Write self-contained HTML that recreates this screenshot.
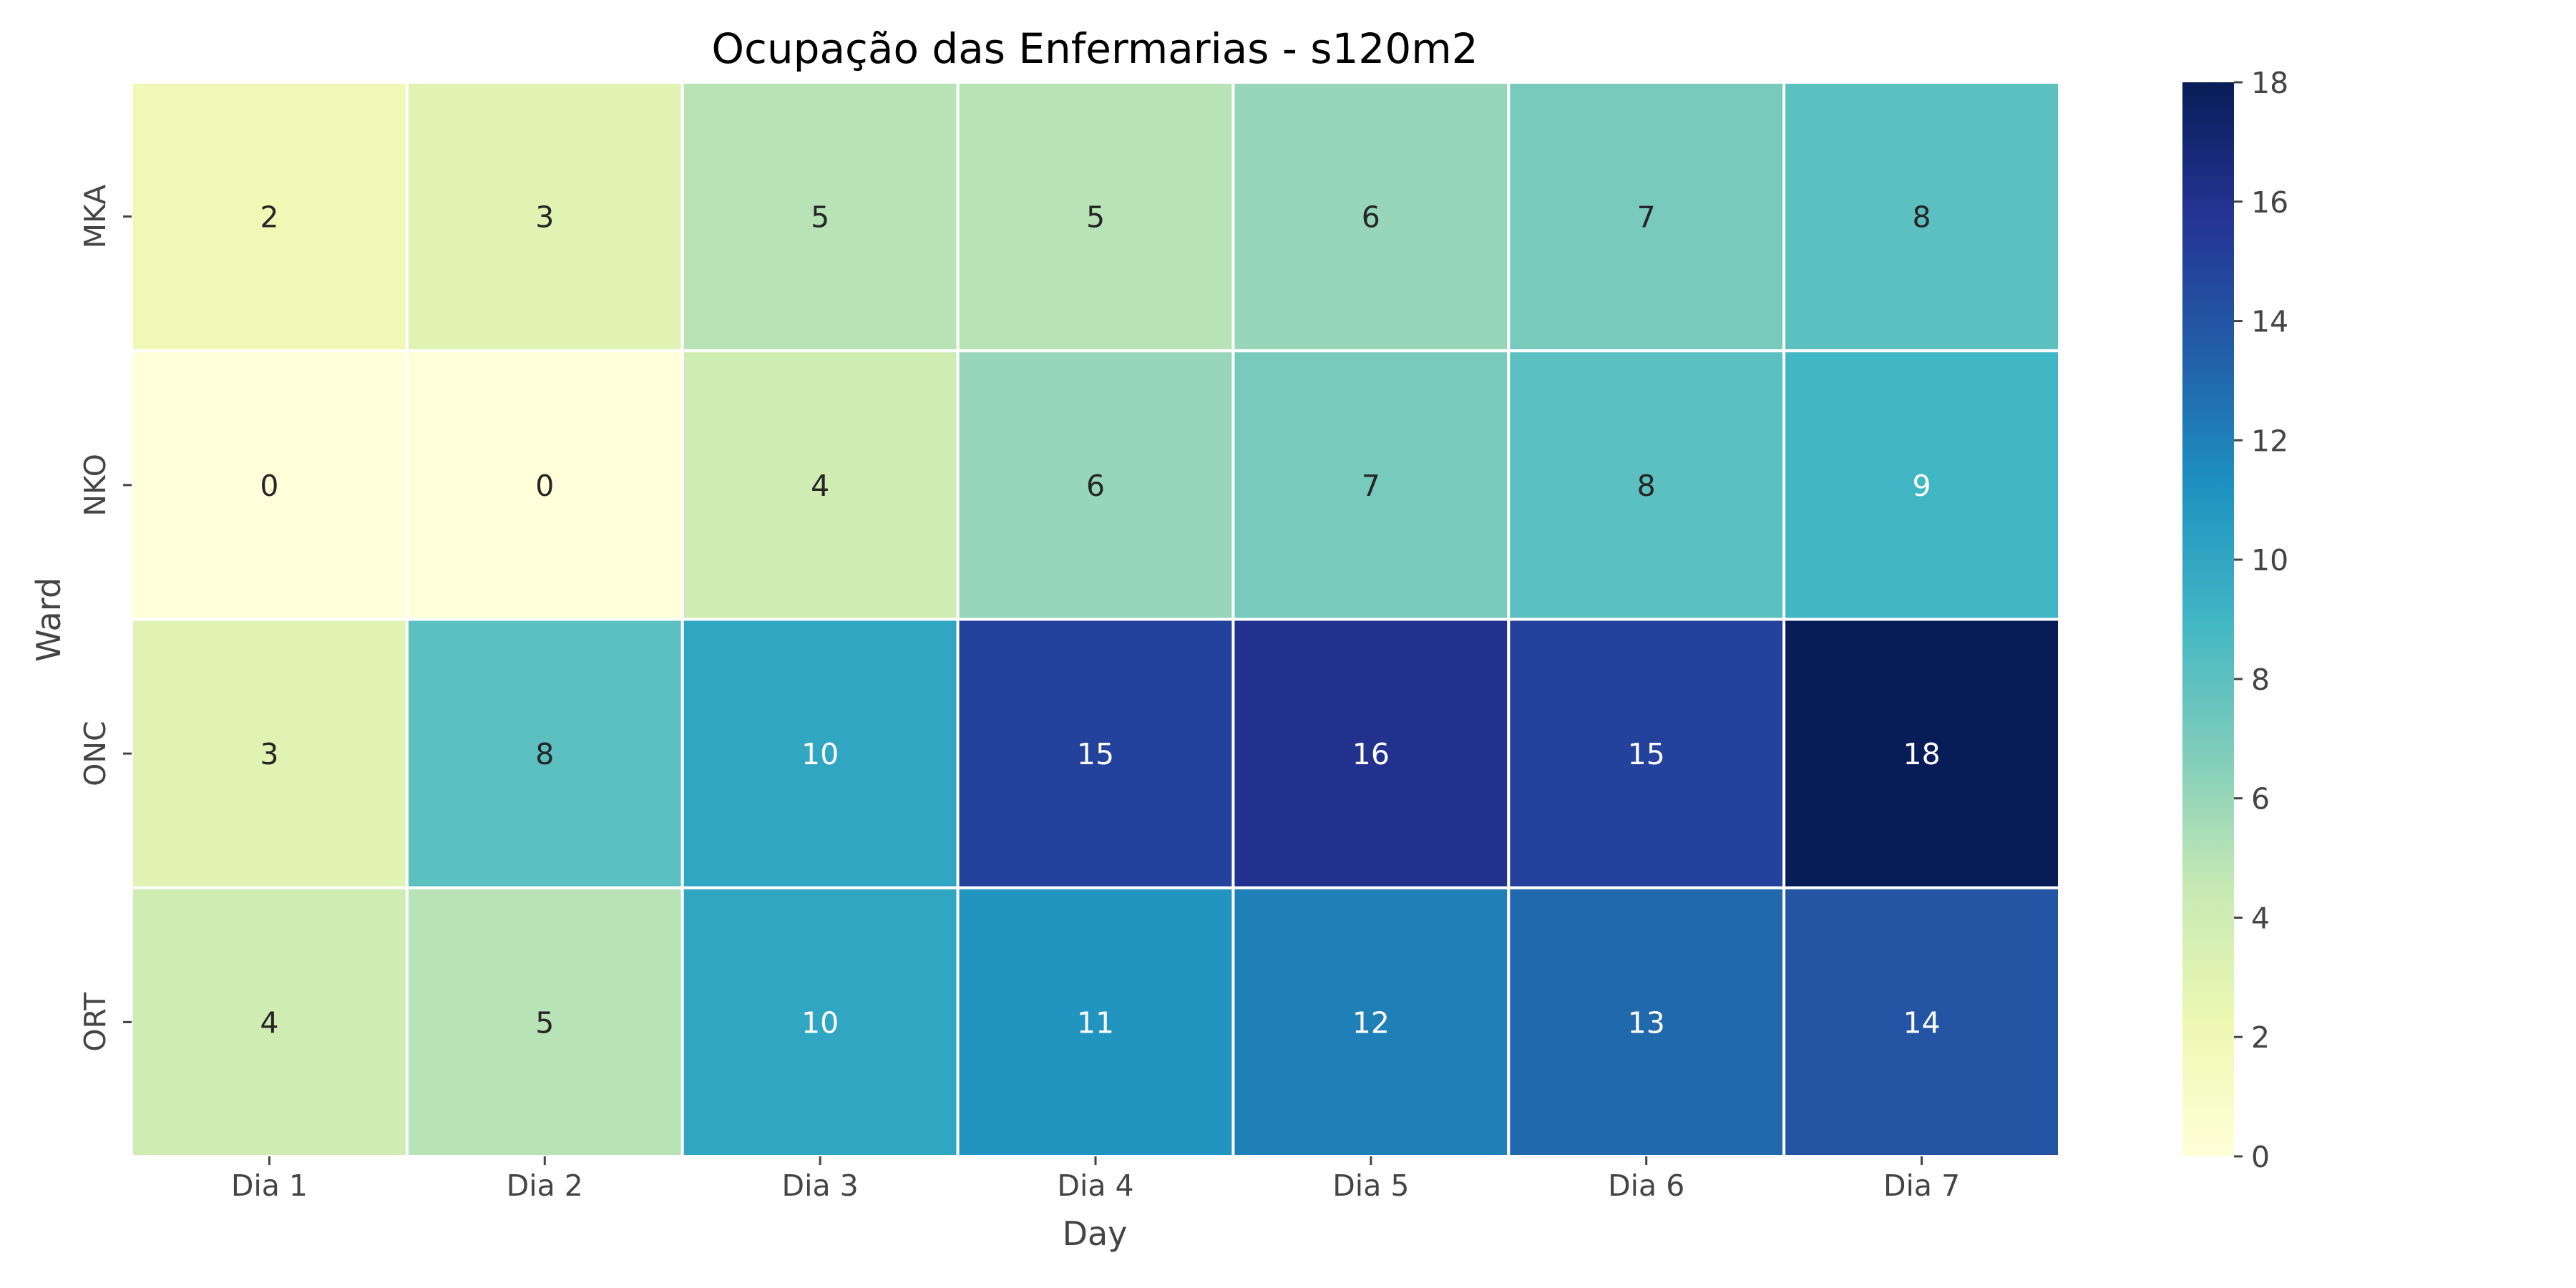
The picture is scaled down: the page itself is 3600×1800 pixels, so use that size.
<!DOCTYPE html>
<html><head><meta charset="utf-8"><style>
html,body{margin:0;padding:0;background:#fff;}
svg{display:block;font-family:"DejaVu Sans","Liberation Sans",sans-serif;}
</style></head><body>
<svg id="chart" width="3600" height="1800" viewBox="0 0 3600 1800">
<defs><linearGradient id="cbg" x1="0" y1="1" x2="0" y2="0">
<stop offset="0" stop-color="#ffffd9"/><stop offset="0.125" stop-color="#edf8b1"/><stop offset="0.25" stop-color="#c7e9b4"/><stop offset="0.375" stop-color="#7fcdbb"/><stop offset="0.5" stop-color="#41b6c4"/><stop offset="0.625" stop-color="#1d91c0"/><stop offset="0.75" stop-color="#225ea8"/><stop offset="0.875" stop-color="#253494"/><stop offset="1" stop-color="#081d58"/>
</linearGradient></defs>
<text x="1530" y="88" font-size="58" text-anchor="middle" fill="#000">Ocupação das Enfermarias - s120m2</text>
<g id="cells"></g>
<g id="axes"></g>
<text x="1530" y="1740" font-size="46" text-anchor="middle" fill="#444">Day</text>
<text transform="translate(84,866) rotate(-90)" font-size="46" text-anchor="middle" fill="#444">Ward</text>
<rect x="3050" y="115" width="72" height="1501" fill="url(#cbg)"/>
<g id="cbar"></g>
</svg>
<script>
const days = ["Dia 1","Dia 2","Dia 3","Dia 4","Dia 5","Dia 6","Dia 7"];
const wards = ["MKA","NKO","ONC","ORT"];
const rowMKA = [2,3,5,5,6,7,8];
const rowNKO = [0,0,4,6,7,8,9];
const rowONC = [3,8,10,15,16,15,18];
const rowORT = [4,5,10,11,12,13,14];
const cbarTicks = [0,2,4,6,8,10,12,14,16,18];
const vmin = 0, vmax = 18;

const rows = [rowMKA,rowNKO,rowONC,rowORT];
const L=184,R=2878,T=115,B=1616;
const cw=(R-L)/days.length, ch=(B-T)/wards.length;
const xPos=i=>L+i*cw, yPos=j=>T+j*ch;
const stops=["#ffffd9","#edf8b1","#c7e9b4","#7fcdbb","#41b6c4","#1d91c0","#225ea8","#253494","#081d58"].map(h=>[1,3,5].map(k=>parseInt(h.substr(k,2),16)));
function color(v){let t=(v-vmin)/(vmax-vmin)*(stops.length-1);let i=Math.min(Math.floor(t),stops.length-2);let f=t-i;
return "rgb("+stops[i].map((c,k)=>Math.round(c+(stops[i+1][k]-c)*f)).join(",")+")";}
const NS="http://www.w3.org/2000/svg";
function mk(tag,attrs,parent){const e=document.createElementNS(NS,tag);for(const k in attrs)e.setAttribute(k,attrs[k]);parent.appendChild(e);return e;}
const cells=document.getElementById('cells'),axes=document.getElementById('axes'),cbar=document.getElementById('cbar');
rows.forEach((row,j)=>row.forEach((v,i)=>{
 const r=mk('rect',{x:xPos(i),y:yPos(j),width:cw,height:ch,fill:color(v),stroke:"#fff","stroke-width":4},cells);
 
 
 const t=mk('text',{x:xPos(i)+cw/2,y:yPos(j)+ch/2+15,"font-size":41,"text-anchor":"middle",fill:(v>=9?"#fff":"#262626")},cells);
 t.textContent=v;
 
 
}));
days.forEach((d,i)=>{
 const cx=xPos(i)+cw/2;
 mk('line',{x1:cx,x2:cx,y1:B,y2:B+12,stroke:"#444","stroke-width":3},axes);
 const t=mk('text',{x:cx,y:B+55,"font-size":41,"text-anchor":"middle",fill:"#444"},axes);
 t.textContent=d;
 
 
});
wards.forEach((w,j)=>{
 const cy=yPos(j)+ch/2;
 mk('line',{x1:L-12,x2:L,y1:cy,y2:cy,stroke:"#444","stroke-width":3},axes);
 const t=mk('text',{transform:"translate(147,"+cy+") rotate(-90)","font-size":41,"text-anchor":"middle",fill:"#444"},axes);
 t.textContent=w;
 
 
});
cbarTicks.forEach(v=>{
 const y=B-(v-vmin)/(vmax-vmin)*(B-T);
 mk('line',{x1:3122,x2:3134,y1:y,y2:y,stroke:"#444","stroke-width":3},cbar);
 const t=mk('text',{x:3146,y:y+15,"font-size":41,fill:"#444"},cbar);
 t.textContent=v;
 
 
});
</script>
</body></html>
